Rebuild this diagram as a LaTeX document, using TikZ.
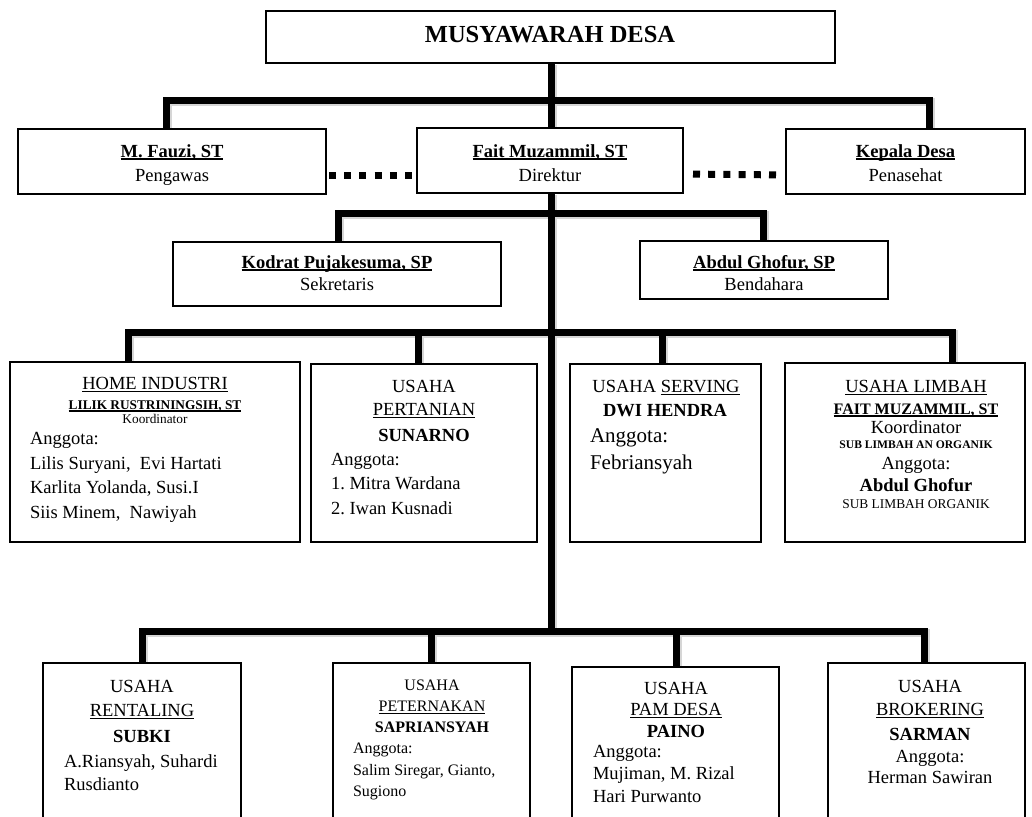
\documentclass[tikz,border=0pt]{standalone}
\usepackage{fontspec}
\setmainfont{Liberation Serif}
\frenchspacing
\newcommand\myfs[1]{\fontsize{#1}{#1}\selectfont}
\newcommand\ulx[2][0.9pt]{\setbox0\hbox{#2}\rlap{\rule[-2.6pt]{\wd0}{#1}}\box0}
\tikzset{
  box/.style={draw=black, line width=1.3pt, fill=white, inner sep=0pt, outer sep=0pt, anchor=north west},
  conn/.style={draw=black, line width=7pt},
  shade/.style={draw=black!16, line width=8pt, transform canvas={shift={(1.5pt,-2pt)}}},
  dots/.style={draw=black, line width=7pt, dash pattern=on 7pt off 8.2pt},
  tc/.style={inner sep=0pt, outer sep=0pt, anchor=base},
  tl/.style={inner sep=0pt, outer sep=0pt, anchor=base west},
}
% all tree connectors, drawn once as shadow and once in black
\newcommand\treepaths[1]{%
  \draw[#1] ([xshift=0.5pt]musy.south) -- ([xshift=1pt]fait.north);
  \draw[#1] ([xshift=-6pt]fauzi.north) |- (r1) -| ([xshift=23.5pt]kepala.north);
  \draw[#1] ([xshift=1pt]fait.south) -- (r5);
  \draw[#1] ([xshift=1pt]kodrat.north) |- (r3) -| ([xshift=-1pt]abdul.north);
  \draw[#1] ([xshift=-27pt]home.north) |- (r4) -| ([xshift=47pt]limb.north);
  \draw[#1] ([xshift=-6pt]pert.north) -- ([xshift=-6pt]pert.north |- r4);
  \draw[#1] ([xshift=-3.5pt]serv.north) -- ([xshift=-3.5pt]serv.north |- r4);
  \draw[#1] (rent.north) |- (r5) -| ([xshift=-2pt]brok.north);
  \draw[#1] ([xshift=-0.5pt]pet.north) -- ([xshift=-0.5pt]pet.north |- r5);
  \draw[#1] ([xshift=0.5pt]pam.north) -- ([xshift=0.5pt]pam.north |- r5);
}
\begin{document}
\begin{tikzpicture}[x=1pt,y=-1pt]
\useasboundingbox (0,0) rectangle (1032,816);
\clip (0,0) rectangle (1032,816);
\fill[white] (0,0) rectangle (1032,816);

% ---------- junctions on the main vertical ----------
\coordinate (r1) at (551,100);
\coordinate (r3) at (551,213);
\coordinate (r4) at (551,332);
\coordinate (r5) at (551,631);

% ---------- boxes ----------
\node[box, minimum width=569pt, minimum height=52pt] (musy) at (266,11) {};
\node[box, minimum width=308pt, minimum height=65pt] (fauzi) at (18,129) {};
\node[box, minimum width=266pt, minimum height=65pt] (fait) at (417,128) {};
\node[box, minimum width=239pt, minimum height=65pt] (kepala) at (786,129) {};
\node[box, minimum width=328pt, minimum height=64pt] (kodrat) at (173,242) {};
\node[box, minimum width=248pt, minimum height=58pt] (abdul) at (640,241) {};
\node[box, minimum width=290pt, minimum height=180pt] (home) at (10,362) {};
\node[box, minimum width=226pt, minimum height=178pt] (pert) at (311,364) {};
\node[box, minimum width=191pt, minimum height=178pt] (serv) at (570,364) {};
\node[box, minimum width=240pt, minimum height=179pt] (limb) at (785,363) {};
\node[box, minimum width=198pt, minimum height=170pt] (rent) at (43,663) {};
\node[box, minimum width=197pt, minimum height=170pt] (pet) at (333,663) {};
\node[box, minimum width=207pt, minimum height=170pt] (pam) at (572,667) {};
\node[box, minimum width=197pt, minimum height=170pt] (brok) at (828,663) {};

% ---------- connectors ----------
\treepaths{shade}
\treepaths{conn}
\draw[dots, shorten <=3pt, shorten >=5pt] ([yshift=-13.5pt]fauzi.east) -- ([yshift=-14.5pt]fait.west);
\draw[dots, shorten <=10pt, shorten >=10pt] ([yshift=-13.5pt]fait.east) -- ([yshift=-13.5pt]kepala.west);

% ---------- box frames on top of the shadows ----------
\foreach \b in {musy,fauzi,fait,kepala,kodrat,abdul,home,pert,serv,limb,rent,pet,pam,brok}
  \draw[line width=1.3pt, fill=white] (\b.north west) rectangle (\b.south east);

% ---------- texts ----------
\node[tc] (tmusy) at (550,43) {\myfs{24.5}\bfseries MUSYAWARAH DESA};

\node[tc] (tfauzi1) at (172,157) {\myfs{18.5}\bfseries\ulx[1.6pt]{M. Fauzi, ST}};
\node[tc] (tfauzi2) at (172,181) {\myfs{18.5}Pengawas};
\node[tc] (tfait1) at (550,157) {\myfs{18.5}\bfseries\ulx[1.6pt]{Fait Muzammil, ST}};
\node[tc] (tfait2) at (550,181) {\myfs{18.5}Direktur};
\node[tc] (tkep1) at (905.5,157) {\myfs{18.5}\bfseries\ulx[1.6pt]{Kepala Desa}};
\node[tc] (tkep2) at (905.5,181) {\myfs{18.5}Penasehat};

\node[tc] (tkod1) at (337,268) {\myfs{18.5}\bfseries\ulx[1.6pt]{Kodrat Pujakesuma, SP}};
\node[tc] (tkod2) at (337,290) {\myfs{18.5}Sekretaris};
\node[tc] (tabd1) at (764,268) {\myfs{18.5}\bfseries\ulx[1.6pt]{Abdul Ghofur, SP}};
\node[tc] (tabd2) at (764,290) {\myfs{18.5}Bendahara};

% HOME INDUSTRI
\node[tc] (th1) at (155,389) {\myfs{18.5}\ulx{HOME INDUSTRI}};
\node[tc] (th2) at (155,409) {\myfs{13.3}\bfseries\ulx[1.3pt]{LILIK RUSTRININGSIH, ST}};
\node[tc] (th3) at (155,423) {\myfs{13.3}Koordinator};
\node[tl] (th4) at (30,444) {\myfs{18.5}Anggota:};
\node[tl] (th5) at (30,469) {\myfs{18.5}Lilis Suryani,\ \ Evi Hartati};
\node[tl] (th6) at (30,493) {\myfs{18.5}Karlita Yolanda, Susi.I};
\node[tl] (th7) at (30,518) {\myfs{18.5}Siis Minem,\ \ Nawiyah};

% PERTANIAN
\node[tc] (tp1) at (424,392) {\myfs{18.5}USAHA};
\node[tc] (tp2) at (424,415) {\myfs{18.5}\ulx{PERTANIAN}};
\node[tc] (tp3) at (424,441) {\myfs{18.5}\bfseries SUNARNO};
\node[tl] (tp4) at (331,465) {\myfs{18.5}Anggota:};
\node[tl] (tp5) at (331,489) {\myfs{18.5}1. Mitra Wardana};
\node[tl] (tp6) at (331,514) {\myfs{18.5}2. Iwan Kusnadi};

% SERVING
\node[tc] (ts1) at (666,392) {\myfs{18.5}USAHA \ulx{SERVING}};
\node[tc] (ts2) at (665,416) {\myfs{18.5}\bfseries DWI HENDRA};
\node[tl] (ts3) at (590,442) {\myfs{21}Anggota:};
\node[tl] (ts4) at (590,469) {\myfs{21}Febriansyah};

% LIMBAH
\node[tc] (tlb1) at (916,392) {\myfs{18.5}\ulx{USAHA LIMBAH}};
\node[tc] (tlb2) at (916,414) {\myfs{16}\bfseries\ulx[1.5pt]{FAIT MUZAMMIL, ST}};
\node[tc] (tlb3) at (916,433) {\myfs{18.5}Koordinator};
\node[tc] (tlb4) at (916,448) {\myfs{11.6}\bfseries SUB LIMBAH AN ORGANIK};
\node[tc] (tlb5) at (916,469) {\myfs{18.5}Anggota:};
\node[tc] (tlb6) at (916,491) {\myfs{18.5}\bfseries Abdul Ghofur};
\node[tc] (tlb7) at (916,508) {\myfs{13.4}SUB LIMBAH ORGANIK};

% RENTALING
\node[tc] (tr1) at (142,692) {\myfs{18.5}USAHA};
\node[tc] (tr2) at (142,716) {\myfs{18.5}\ulx{RENTALING}};
\node[tc] (tr3) at (142,742) {\myfs{18.5}\bfseries SUBKI};
\node[tl] (tr4) at (64,767) {\myfs{18.5}A.Riansyah, Suhardi};
\node[tl] (tr5) at (64,790) {\myfs{18.5}Rusdianto};

% PETERNAKAN
\node[tc] (tt1) at (432,690) {\myfs{16}USAHA};
\node[tc] (tt2) at (432,711) {\myfs{16}\ulx{PETERNAKAN}};
\node[tc] (tt3) at (432,732) {\myfs{16}\bfseries SAPRIANSYAH};
\node[tl] (tt4) at (353,753) {\myfs{16}Anggota:};
\node[tl] (tt5) at (353,775) {\myfs{16}Salim Siregar, Gianto,};
\node[tl] (tt6) at (353,796) {\myfs{16}Sugiono};

% PAM DESA
\node[tc] (tm1) at (676,694) {\myfs{18.5}USAHA};
\node[tc] (tm2) at (676,715) {\myfs{18.5}\ulx{PAM DESA}};
\node[tc] (tm3) at (676,737) {\myfs{18.5}\bfseries PAINO};
\node[tl] (tm4) at (593,757) {\myfs{18.5}Anggota:};
\node[tl] (tm5) at (593,779) {\myfs{18.5}Mujiman, M. Rizal};
\node[tl] (tm6) at (593,802) {\myfs{18.5}Hari Purwanto};

% BROKERING
\node[tc] (tb1) at (930,692) {\myfs{18.5}USAHA};
\node[tc] (tb2) at (930,715) {\myfs{18.5}\ulx{BROKERING}};
\node[tc] (tb3) at (930,740) {\myfs{18.5}\bfseries SARMAN};
\node[tc] (tb4) at (930,762) {\myfs{18.5}Anggota:};
\node[tc] (tb5) at (930,783) {\myfs{18.5}Herman Sawiran};
\end{tikzpicture}
\end{document}
